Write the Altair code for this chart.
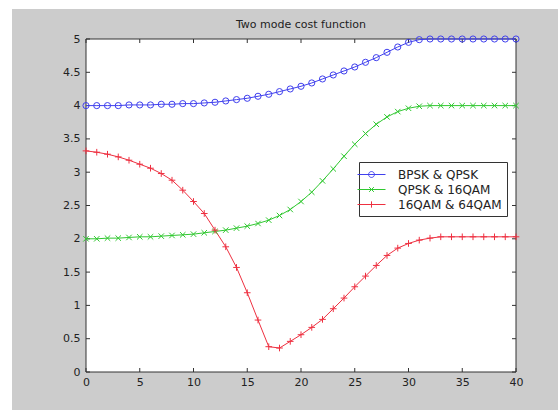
import altair as alt
import pandas as pd

# ---- data ----
x_vals = list(range(41))
series_names = ["BPSK & QPSK", "QPSK & 16QAM", "16QAM & 64QAM"]
bpsk_qpsk = [4.00, 4.00, 4.00, 4.00, 4.01, 4.01, 4.01, 4.02, 4.02, 4.03,
             4.03, 4.04, 4.05, 4.07, 4.09, 4.11, 4.14, 4.17, 4.21, 4.25,
             4.29, 4.34, 4.40, 4.46, 4.52, 4.58, 4.65, 4.72, 4.80, 4.88,
             4.95, 4.99, 5.00, 5.00, 5.00, 5.00, 5.00, 5.00, 5.00, 5.00, 5.00]
qpsk_16qam = [2.00, 2.00, 2.01, 2.01, 2.02, 2.03, 2.03, 2.04, 2.05, 2.06,
              2.07, 2.09, 2.11, 2.13, 2.16, 2.19, 2.23, 2.28, 2.35, 2.44,
              2.56, 2.70, 2.87, 3.05, 3.24, 3.42, 3.58, 3.72, 3.83, 3.91,
              3.96, 3.99, 4.00, 4.00, 4.00, 4.00, 4.00, 4.00, 4.00, 4.00, 4.00]
qam16_64 = [3.32, 3.30, 3.27, 3.23, 3.18, 3.12, 3.06, 2.98, 2.88, 2.73,
            2.56, 2.38, 2.13, 1.88, 1.57, 1.19, 0.78, 0.38, 0.36, 0.46,
            0.56, 0.67, 0.79, 0.95, 1.11, 1.28, 1.44, 1.60, 1.75, 1.86,
            1.93, 1.98, 2.01, 2.03, 2.03, 2.03, 2.03, 2.03, 2.03, 2.03, 2.03]
x_ticks = [0, 5, 10, 15, 20, 25, 30, 35, 40]
y_ticks = [0, 0.5, 1, 1.5, 2, 2.5, 3, 3.5, 4, 4.5, 5]
title_text = "Two mode cost function"

# ---- styling ----
W, H = 430, 333
PAD = {"left": 86, "top": 39, "right": 42, "bottom": 38}
colors = ["#4040ee", "#30c830", "#ee3040"]
FONT = "DejaVu Sans"
TXT = "#222222"

x_path = "M-1,-1L1,1M-1,1L1,-1"
plus_path = "M-1,0L1,0M0,-1L0,1"
marker_shapes = ["circle", x_path, plus_path]
marker_sizes = [38, 30, 44]

leg_o = "M-2,0L2,0M-0.42,0A0.42,0.42 0 1,1 0.42,0A0.42,0.42 0 1,1 -0.42,0"
leg_x = "M-2,0L2,0M-0.34,-0.34L0.34,0.34M-0.34,0.34L0.34,-0.34"
leg_p = "M-2,0L2,0M0,-0.45L0,0.45"
legend_shapes = [leg_o, leg_x, leg_p]

rows = []
for name, vals in zip(series_names, [bpsk_qpsk, qpsk_16qam, qam16_64]):
    for xv, yv in zip(x_vals, vals):
        rows.append({"x": xv, "y": yv, "series": name})
df = pd.DataFrame(rows)

xs = alt.Scale(domain=[0, 40], nice=False, zero=False)
ys = alt.Scale(domain=[0, 5], nice=False, zero=False)
xaxis = alt.Axis(values=x_ticks, title=None, grid=False, ticks=False, domain=False,
                 labelFont=FONT, labelFontSize=11, labelColor=TXT, labelPadding=4,
                 labelFlush=False, labelOverlap=False, labelAngle=0, zindex=1)
yaxis = alt.Axis(values=y_ticks, format="~g", title=None, grid=False, ticks=False,
                 domain=False, labelFont=FONT, labelFontSize=11, labelColor=TXT,
                 labelPadding=6, labelFlush=False, labelOverlap=False, zindex=1)

one = alt.Data(values=[{"k": 1}])
fig_bg = alt.Chart(one).mark_rect(color="#cccccc", clip=False).encode(
    x=alt.value(-74), x2=alt.value(W + PAD["right"]),
    y=alt.value(-30), y2=alt.value(H + PAD["bottom"]))
plot_bg = alt.Chart(one).mark_rect(fill="white", stroke="#333333", strokeWidth=1).encode(
    x=alt.value(0), x2=alt.value(W), y=alt.value(0), y2=alt.value(H))
title_mark = alt.Chart(one).mark_text(
    font=FONT, fontSize=11, color=TXT, align="center", baseline="middle", clip=False
).encode(x=alt.value(W / 2), y=alt.value(-14), text=alt.value(title_text))

xt = pd.DataFrame({"x": x_ticks})
yt = pd.DataFrame({"y": y_ticks})
tick_style = dict(color="#333333", strokeWidth=1)
ticks_b = alt.Chart(xt).mark_rule(**tick_style).encode(
    x=alt.X("x:Q", scale=xs, axis=xaxis), y=alt.value(H), y2=alt.value(H - 4))
ticks_t = alt.Chart(xt).mark_rule(**tick_style).encode(
    x=alt.X("x:Q", scale=xs, axis=xaxis), y=alt.value(0), y2=alt.value(4))
ticks_l = alt.Chart(yt).mark_rule(**tick_style).encode(
    y=alt.Y("y:Q", scale=ys, axis=yaxis), x=alt.value(0), x2=alt.value(4))
ticks_r = alt.Chart(yt).mark_rule(**tick_style).encode(
    y=alt.Y("y:Q", scale=ys, axis=yaxis), x=alt.value(W), x2=alt.value(W - 4))

color_scale = alt.Scale(domain=series_names, range=colors)
legend = alt.Legend(
    title=None, orient="none", legendX=273, legendY=123, direction="vertical",
    fillColor="white", strokeColor="#333333", padding=5,
    labelFont=FONT, labelFontSize=12, labelColor=TXT, labelOffset=19,
    labelExpr="datum.label + '  '",
    symbolSize=196, symbolStrokeWidth=1, symbolOpacity=1, rowPadding=1, zindex=2)

lines = alt.Chart(df).mark_line(strokeWidth=1).encode(
    x=alt.X("x:Q", scale=xs, axis=xaxis),
    y=alt.Y("y:Q", scale=ys, axis=yaxis),
    color=alt.Color("series:N", scale=color_scale, legend=legend),
)

point_layers = []
for name, col, shp, sz in zip(series_names, colors, marker_shapes, marker_sizes):
    point_layers.append(
        alt.Chart(df).transform_filter(alt.datum.series == name).mark_point(
            shape=shp, size=sz, filled=False, strokeWidth=1, color=col, opacity=1
        ).encode(x=alt.X("x:Q", scale=xs, axis=xaxis), y=alt.Y("y:Q", scale=ys, axis=yaxis))
    )

# legend-only layer: no rows drawn, scales carry the legend entries
legend_layer = alt.Chart(df).transform_filter("false").mark_point(
    filled=False, strokeWidth=1, opacity=1
).encode(
    x=alt.X("x:Q", scale=xs, axis=xaxis),
    y=alt.Y("y:Q", scale=ys, axis=yaxis),
    color=alt.Color("series:N", scale=color_scale, legend=legend),
    shape=alt.Shape("series:N", scale=alt.Scale(domain=series_names, range=legend_shapes),
                    legend=legend),
)

chart = alt.layer(fig_bg, plot_bg, title_mark, ticks_b, ticks_t, ticks_l, ticks_r, lines,
                  *point_layers, legend_layer).properties(
    width=W, height=H, padding=PAD, autosize=alt.AutoSizeParams(type="none"),
    background="white",
).configure_view(stroke=None)

chart.save("out.html", embed_options={"renderer": "svg", "actions": False})
